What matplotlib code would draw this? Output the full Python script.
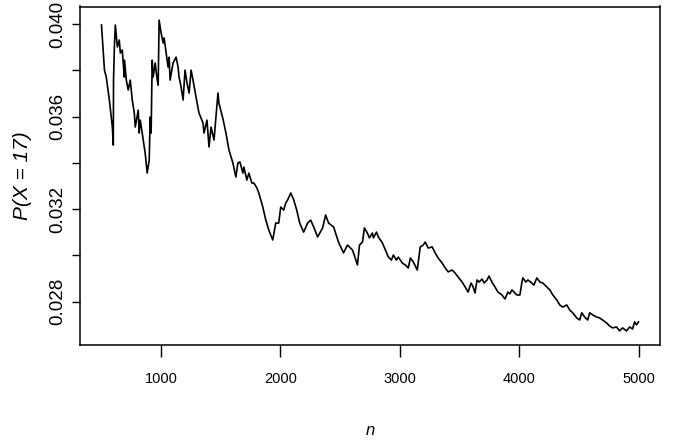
import matplotlib.pyplot as plt

# running estimate of P(X = 17) against sample size n
n_vals = [500, 525, 540, 566, 591, 599, 601, 608, 616, 633, 649, 658, 674, 691, 693,
          708, 724, 741, 758, 775, 783, 808, 816, 825, 850, 866, 883, 900, 908, 916,
          925, 933, 950, 967, 975, 983, 1000, 1017, 1025, 1042, 1058, 1067, 1075, 1100,
          1125, 1142, 1150, 1167, 1184, 1200, 1217, 1234, 1251, 1267, 1292, 1317, 1351,
          1359, 1384, 1401, 1418, 1443, 1459, 1476, 1484, 1518, 1543, 1568, 1601, 1626,
          1643, 1660, 1685, 1693, 1718, 1735, 1760, 1777, 1802, 1818, 1852, 1877, 1902,
          1935, 1960, 1985, 2002, 2027, 2044, 2060, 2086, 2111, 2136, 2161, 2194, 2227,
          2253, 2278, 2311, 2353, 2378, 2403, 2445, 2486, 2528, 2561, 2603, 2645, 2662,
          2687, 2703, 2728, 2745, 2770, 2779, 2804, 2820, 2854, 2879, 2904, 2929, 2946,
          2971, 2987, 3021, 3046, 3071, 3088, 3113, 3146, 3171, 3196, 3213, 3238, 3271,
          3296, 3321, 3355, 3380, 3405, 3438, 3463, 3488, 3522, 3547, 3572, 3597, 3614,
          3630, 3647, 3664, 3689, 3706, 3731, 3747, 3772, 3797, 3822, 3856, 3881, 3906,
          3923, 3939, 3964, 3981, 4006, 4023, 4031, 4056, 4073, 4106, 4123, 4148, 4173,
          4198, 4232, 4257, 4282, 4315, 4340, 4365, 4399, 4424, 4449, 4482, 4507, 4524,
          4549, 4574, 4591, 4616, 4649, 4674, 4699, 4733, 4758, 4783, 4816, 4841, 4866,
          4900, 4925, 4950, 4967, 4983, 5000]
p_vals = [0.03996, 0.03801, 0.03771, 0.03672, 0.03555, 0.03477, 0.03758, 0.03901, 0.03996,
          0.03901, 0.03931, 0.03875, 0.03888, 0.03771, 0.03844, 0.03758, 0.03715, 0.03758,
          0.03672, 0.03616, 0.03555, 0.03628, 0.03529, 0.03585, 0.03499, 0.03443, 0.03356,
          0.03412, 0.03598, 0.03529, 0.03844, 0.03771, 0.03832, 0.03758, 0.03736, 0.04017,
          0.03961, 0.03918, 0.03940, 0.03875, 0.03814, 0.03857, 0.03758, 0.03832, 0.03857,
          0.03814, 0.03771, 0.03728, 0.03672, 0.03801, 0.03745, 0.03702, 0.03801, 0.03758,
          0.03685, 0.03616, 0.03572, 0.03529, 0.03585, 0.03469, 0.03555, 0.03499, 0.03598,
          0.03702, 0.03659, 0.03590, 0.03529, 0.03456, 0.03400, 0.03339, 0.03400, 0.03404,
          0.03356, 0.03382, 0.03326, 0.03356, 0.03313, 0.03313, 0.03292, 0.03270, 0.03209,
          0.03153, 0.03110, 0.03067, 0.03140, 0.03140, 0.03209, 0.03196, 0.03227, 0.03240,
          0.03270, 0.03240, 0.03196, 0.03140, 0.03101, 0.03140, 0.03153, 0.03123, 0.03080,
          0.03119, 0.03175, 0.03140, 0.03123, 0.03058, 0.03011, 0.03045, 0.03024, 0.02959,
          0.03045, 0.03058, 0.03119, 0.03097, 0.03076, 0.03097, 0.03076, 0.03101, 0.03080,
          0.03054, 0.03024, 0.02993, 0.02980, 0.03002, 0.02980, 0.02993, 0.02967, 0.02959,
          0.02946, 0.02989, 0.02972, 0.02937, 0.03037, 0.03045, 0.03058, 0.03032, 0.03037,
          0.03011, 0.02989, 0.02967, 0.02946, 0.02929, 0.02937, 0.02924, 0.02907, 0.02885,
          0.02864, 0.02842, 0.02881, 0.02864, 0.02838, 0.02894, 0.02885, 0.02898, 0.02881,
          0.02894, 0.02911, 0.02885, 0.02864, 0.02842, 0.02829, 0.02812, 0.02842, 0.02834,
          0.02851, 0.02838, 0.02829, 0.02829, 0.02885, 0.02903, 0.02885, 0.02894, 0.02881,
          0.02872, 0.02903, 0.02885, 0.02881, 0.02864, 0.02851, 0.02829, 0.02808, 0.02786,
          0.02777, 0.02786, 0.02764, 0.02752, 0.02730, 0.02721, 0.02752, 0.02734, 0.02721,
          0.02752, 0.02743, 0.02734, 0.02730, 0.02721, 0.02708, 0.02695, 0.02687, 0.02691,
          0.02674, 0.02687, 0.02674, 0.02691, 0.02682, 0.02713, 0.02700, 0.02713]

x_ticks = [1000, 2000, 3000, 4000, 5000]
y_ticks = [0.028, 0.030, 0.032, 0.034, 0.036, 0.038, 0.040]
y_tick_labels = ['0.028', '', '0.032', '', '0.036', '', '0.040']

plt.rcParams['font.family'] = ['Liberation Sans', 'DejaVu Sans']

fig = plt.figure(figsize=(6.77, 4.43), dpi=100)
ax = fig.add_axes([80 / 677, 98 / 443, 580 / 677, 338.5 / 443])

ax.plot(n_vals, p_vals, color='black', linewidth=1.2)

ax.set_xlim(320, 5180)
ax.set_ylim(0.02613, 0.04076)

ax.set_xticks(x_ticks)
ax.set_xticklabels([str(t) for t in x_ticks], fontsize=10.5)
ax.set_yticks(y_ticks)
ax.set_yticklabels(y_tick_labels, fontsize=13.5, rotation=90, va='center')
ax.tick_params(direction='out', width=1.0, color='black')
ax.tick_params(axis='x', length=8.6, pad=11)
ax.tick_params(axis='y', length=5.8, pad=4)

for s in ax.spines.values():
    s.set_linewidth(1.1)
    s.set_color('black')

ax.set_xlabel('n', fontsize=12, style='italic')
ax.xaxis.set_label_coords(0.5, -(435 - 345) / 338.5)
ax.xaxis.label.set_va('baseline')

ax.set_ylabel('P(X = 17)', fontsize=15, style='italic')
ax.yaxis.set_label_coords((23 - 80) / 580, 0.5)
ax.yaxis.label.set_va('center')

fig.savefig('out.png', dpi=100)
